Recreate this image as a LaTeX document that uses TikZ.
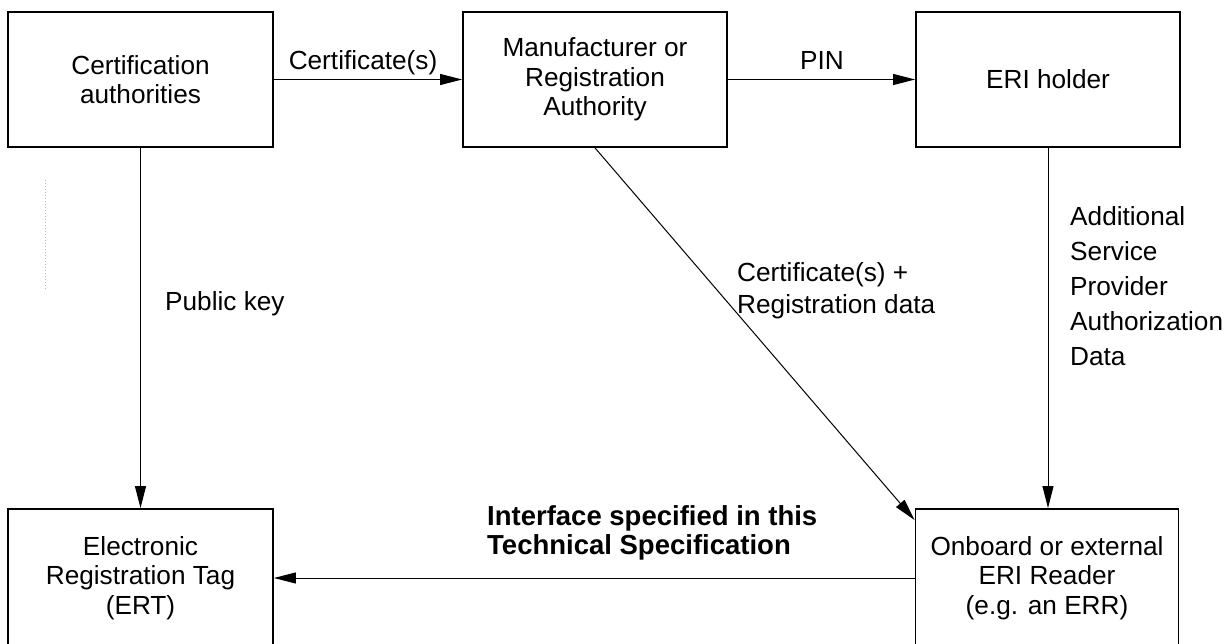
\documentclass[tikz,border=0pt]{standalone}
\usepackage{fontspec}
\setmainfont{Liberation Sans}
\usetikzlibrary{arrows.meta}
\begin{document}
\begin{tikzpicture}[x=1pt,y=-1pt,
  box/.style={draw=black,line width=1.8pt,fill=white,align=center,inner sep=0pt,
    font=\fontsize{26.2}{29.5}\selectfont},
  conn/.style={line width=1pt,-{Triangle[length=22pt,width=11pt]}},
  lbl/.style={inner sep=0pt,font=\fontsize{26.2}{29}\selectfont}]
\useasboundingbox (0,0) rectangle (1226,644);
\node[box,minimum width=265pt,minimum height=135pt] (cert) at (140.5,79.5) {Certification\\authorities};
\node[box,minimum width=264pt,minimum height=135pt] (manuf) at (595,79.5) {Manufacturer or\\Registration\\Authority};
\node[box,minimum width=264pt,minimum height=135pt] (eri) at (1048,79.5) {ERI holder};
\node[box,minimum width=265pt,minimum height=138pt] (ert) at (140.5,578) {Electronic\\Registration Tag\\(ERT)};
\node[box,minimum width=263pt,minimum height=138pt] (err) at (1047,578) {Onboard or external\\ERI Reader\\(e.g. an ERR)};
\draw[conn] (cert) -- (manuf);
\draw[conn] (manuf) -- (eri);
\draw[conn] (cert) -- (ert);
\draw[conn] (eri.south) -- (eri.south |- err.north);
\draw[conn] (manuf.south) -- ([yshift=-12pt]err.north west);
\draw[conn] (err.west) -- (ert.east);
\node[lbl,anchor=base] (l1) at (363,70) {Certificate(s)};
\node[lbl,anchor=base] (l2) at (822,70) {PIN};
\node[lbl,anchor=base west] (l3) at (165,311) {Public key};
\node[lbl,anchor=north west,align=left,font=\fontsize{26.2}{35}\selectfont] (l4) at (1070,206) {Additional\\Service\\Provider\\Authorization\\Data};
\node[lbl,anchor=north west,align=left,font=\fontsize{26.2}{32}\selectfont] (l5) at (737,262) {Certificate(s) +\\Registration data};
\node[lbl,anchor=north west,align=left,font=\bfseries\fontsize{27.5}{29}\selectfont] (l6) at (487,505) {Interface specified in this\\Technical Specification};
\draw[gray!55,dotted,line width=1pt] (45,180) -- (45,290);
\end{tikzpicture}
\end{document}
